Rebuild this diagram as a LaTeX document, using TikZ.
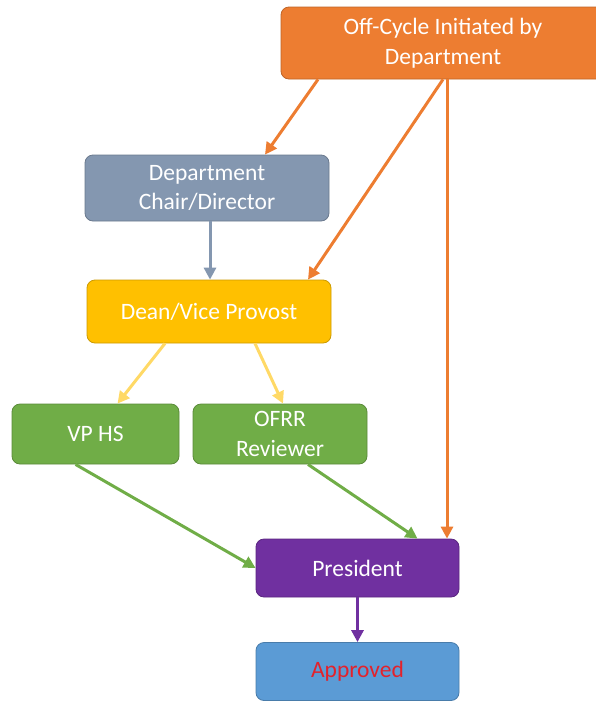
\documentclass[tikz,border=0pt]{standalone}
\usepackage{fontspec}
\setmainfont{Carlito}
\usetikzlibrary{positioning,arrows.meta}

\definecolor{offorange}{HTML}{ED7D31}
\definecolor{chairblue}{HTML}{8497B0}
\definecolor{deangold}{HTML}{FFC000}
\definecolor{revgreen}{HTML}{70AD47}
\definecolor{prespurple}{HTML}{7030A0}
\definecolor{apprblue}{HTML}{5B9BD5}
\definecolor{lightgold}{HTML}{FFD966}
\definecolor{apprred}{HTML}{E3222B}

\begin{document}
\begin{tikzpicture}[x=1pt, y=-1pt,
  box/.style={rectangle, rounded corners=8pt, draw=#1!80!black, fill=#1, line width=0.8pt,
    text=white, align=center, font=\fontsize{23.5}{29.5}\selectfont, inner sep=0pt},
  flow/.style={line width=3pt, draw=#1, -{Triangle[length=12pt, width=12pt]}}]
  \useasboundingbox (0,0) rectangle (596,702);

  % Boxes
  \node[box=offorange, minimum width=324pt, minimum height=72pt] (off) at (443,43) {Off-Cycle Initiated by\\Department};
  \node[box=chairblue, minimum width=244pt, minimum height=66pt] (chair) at (207,188) {Department\\Chair/Director};
  \node[box=deangold, minimum width=244pt, minimum height=63pt] (dean) at (209,311.5) {Dean/Vice Provost};
  \node[box=revgreen, minimum width=167pt, minimum height=60pt] (vphs) at (95.5,434) {VP HS};
  \node[box=revgreen, minimum width=174pt, minimum height=60pt] (ofrr) at (280,434) {OFRR\\Reviewer};
  \node[box=prespurple, minimum width=203pt, minimum height=58pt] (pres) at (357.5,568) {President};
  \node[box=apprblue, minimum width=203pt, minimum height=58pt, text=apprred] (appr) at (357.5,671.5) {Approved};

  % Arrows from the department
  \draw[flow=offorange] ([xshift=-125pt]off.south) -- ([xshift=58pt]chair.north);
  \draw[flow=offorange] ([xshift=0pt]off.south) -- ([xshift=99pt]dean.north);
  \draw[flow=offorange] ([xshift=4pt]off.south) -- ([xshift=89.5pt]pres.north);

  % Arrows down the chain
  \draw[flow=chairblue] ([xshift=3pt]chair.south) -- ([xshift=1pt]dean.north);
  \draw[flow=lightgold] ([xshift=-44pt]dean.south) -- ([xshift=22pt]vphs.north);
  \draw[flow=lightgold] ([xshift=46pt]dean.south) -- ([xshift=3pt]ofrr.north);
  \draw[flow=revgreen] ([xshift=-20pt]vphs.south) -- (pres.west);
  \draw[flow=revgreen] ([xshift=28pt]ofrr.south) -- ([xshift=60pt]pres.north);
  \draw[flow=prespurple] (pres.south) -- (appr.north);
\end{tikzpicture}
\end{document}
